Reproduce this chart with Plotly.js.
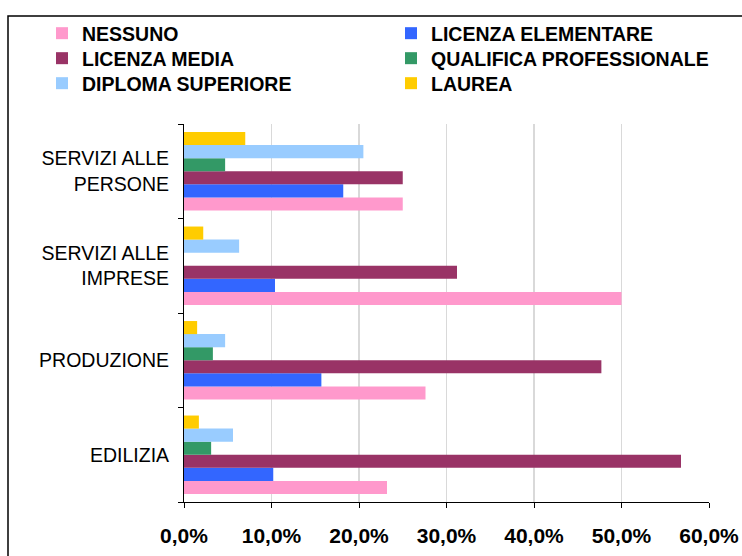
<!DOCTYPE html>
<html>
<head>
<meta charset="utf-8">
<script src="https://cdn.plot.ly/plotly-3.0.1.min.js"></script>
<style>html,body{margin:0;padding:0;background:#fff;}#chart{width:742px;height:556px;}</style>
</head>
<body>
<div id="chart"></div>
<script>
// categories listed bottom-to-top
const categories = ["EDILIZIA", "PRODUZIONE", "SERVIZI ALLE<br>IMPRESE", "SERVIZI ALLE<br>PERSONE"];
const seriesNames = ["NESSUNO", "LICENZA ELEMENTARE", "LICENZA MEDIA", "QUALIFICA PROFESSIONALE", "DIPLOMA SUPERIORE", "LAUREA"];
const nessuno     = [0.232, 0.276, 0.500, 0.250];
const elementare  = [0.102, 0.157, 0.104, 0.182];
const media       = [0.568, 0.477, 0.312, 0.250];
const qualifica   = [0.031, 0.033, 0.000, 0.047];
const diploma     = [0.056, 0.047, 0.063, 0.205];
const laurea      = [0.017, 0.015, 0.022, 0.070];
const colors = ["#FF99CC", "#3366FF", "#993366", "#339966", "#99CCFF", "#FFCC00"];
const xTicks = [0, 0.1, 0.2, 0.3, 0.4, 0.5, 0.6];

const legendIds = ["legend", "legend", "legend2", "legend2", "legend3", "legend3"];
const values = [nessuno, elementare, media, qualifica, diploma, laurea];
const traces = values.map((v, i) => ({
  type: "bar",
  orientation: "h",
  name: seriesNames[i],
  x: v,
  y: categories,
  legend: legendIds[i],
  marker: {color: colors[i], line: {width: 0}},
  hoverinfo: "x+name"
}));

const font = "Liberation Sans, Arial, sans-serif";
const L = 184, R = 33, T = 124, B = 54;
const PW = 742 - L - R, PH = 556 - T - B;
function legendAt(topPx) {
  return {
    orientation: "h",
    xref: "paper", yref: "paper",
    x: (42 - L) / PW, y: 1 + (T - topPx) / PH, xanchor: "left", yanchor: "top",
    entrywidth: 304,
    traceorder: "normal",
    font: {family: font, size: 19.5, color: "#000", weight: "bold"},
    itemclick: false, itemdoubleclick: false,
    bgcolor: "rgba(0,0,0,0)"
  };
}
const layout = {
  width: 742, height: 556,
  margin: {l: L, r: R, t: T, b: B, autoexpand: false},
  paper_bgcolor: "#fff", plot_bgcolor: "#fff",
  separators: ",.",
  barmode: "group",
  bargap: 0.17,
  bargroupgap: 0,
  showlegend: true,
  legend: legendAt(14),
  legend2: legendAt(39),
  legend3: legendAt(64),
  xaxis: {
    range: [0, 0.6],
    tickvals: xTicks,
    tickformat: ".1%",
    showgrid: true, gridcolor: "#d9d9d9", gridwidth: 1.5,
    showline: true, linecolor: "#000", linewidth: 1,
    ticks: "outside", ticklen: 5, tickcolor: "#000",
    zeroline: false,
    tickfont: {family: font, size: 21, color: "#000", weight: "bold"},
    ticklabelstandoff: 10,
    fixedrange: true
  },
  yaxis: {
    type: "category",
    showgrid: false,
    showline: true, linecolor: "#000", linewidth: 1,
    ticks: "outside", ticklen: 5, tickcolor: "#000",
    tickson: "boundaries",
    tickfont: {family: font, size: 19.5, color: "#000"},
    ticklabelstandoff: 10,
    fixedrange: true
  },
  shapes: [{
    type: "rect", xref: "paper", yref: "paper",
    x0: (8 - L) / PW, x1: (760 - L) / PW,
    y0: -(B + 20) / PH, y1: 1 + (T - 16) / PH,
    line: {color: "#000", width: 1.5}, fillcolor: "rgba(0,0,0,0)", layer: "below"
  }]
};

Plotly.newPlot("chart", traces, layout, {displayModeBar: false, staticPlot: true});
</script>
</body>
</html>
